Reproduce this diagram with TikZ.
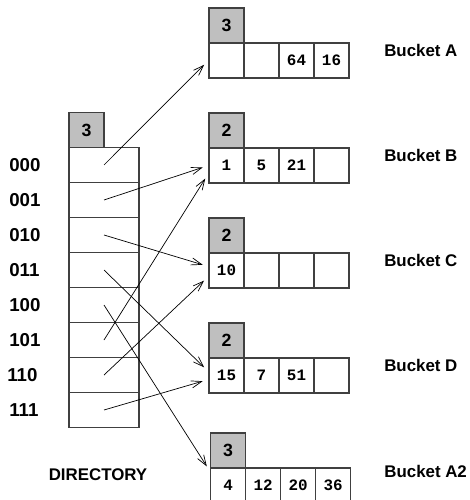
\documentclass[tikz,border=0pt]{standalone}
\usepackage{fontspec}
\setmainfont{Liberation Sans}
\setmonofont{Liberation Mono}
\usetikzlibrary{arrows.meta}

\tikzstyle{cell} = [rectangle, draw=black!75, line width=0.8pt, minimum width=0.875cm,
minimum height=0.875cm, inner sep=0pt, font=\fontsize{11.3}{13}\selectfont\ttfamily\bfseries]
\tikzstyle{slot} = [cell, minimum width=1.75cm]
\tikzstyle{depth} = [cell, fill=black!25, font=\fontsize{12.6}{15}\selectfont\bfseries]
\tikzstyle{bits} = [inner sep=0pt, font=\fontsize{13.3}{15}\selectfont\bfseries]
\tikzstyle{title} = [inner sep=0pt, font=\fontsize{12}{14}\selectfont\bfseries]
\tikzstyle{arrow} = [line width=0.5pt, shorten >=0.15cm, ->, >={Straight Barb[length=2.6mm, width=1.8mm]}]

\begin{document}
\begin{tikzpicture}[node distance=0.875cm]
  \useasboundingbox (0,0) rectangle (11.75,-12.5);

  % directory
  \node (dir000) [slot] at (2.6,-4.125) {};
  \node (dir001) [slot, below of=dir000] {};
  \node (dir010) [slot, below of=dir001] {};
  \node (dir011) [slot, below of=dir010] {};
  \node (dir100) [slot, below of=dir011] {};
  \node (dir101) [slot, below of=dir100] {};
  \node (dir110) [slot, below of=dir101] {};
  \node (dir111) [slot, below of=dir110] {};
  \node (dirhdr) [depth, above of=dir000, xshift=-0.4375cm] {3};

  \node (l000) [bits, left of=dir000, xshift=-1.5cm, anchor=west] {000};
  \node (l001) [bits, left of=dir001, xshift=-1.5cm, anchor=west] {001};
  \node (l010) [bits, left of=dir010, xshift=-1.5cm, anchor=west] {010};
  \node (l011) [bits, left of=dir011, xshift=-1.5cm, anchor=west] {011};
  \node (l100) [bits, left of=dir100, xshift=-1.5cm, anchor=west] {100};
  \node (l101) [bits, left of=dir101, xshift=-1.5cm, anchor=west] {101};
  \node (l110) [bits, left of=dir110, xshift=-1.55cm, anchor=west] {110};
  \node (l111) [bits, left of=dir111, xshift=-1.5cm, anchor=west] {111};
  \node (dirname) [title, below of=dir111, xshift=-0.15cm, yshift=-0.75cm] {DIRECTORY};

  % bucket A
  \node (a1) [cell] at (5.6625,-1.5125) {};
  \node (a2) [cell, right of=a1] {};
  \node (a3) [cell, right of=a2] {64};
  \node (a4) [cell, right of=a3] {16};
  \node (ahdr) [depth, above of=a1] {3};
  \node (la) [title, right of=a4, xshift=0.4375cm, yshift=0.25cm, anchor=west] {Bucket A};

  % bucket B
  \node (b1) [cell, below of=a1, yshift=-1.75cm] {1};
  \node (b2) [cell, right of=b1] {5};
  \node (b3) [cell, right of=b2] {21};
  \node (b4) [cell, right of=b3] {};
  \node (bhdr) [depth, above of=b1] {2};
  \node (lb) [title, right of=b4, xshift=0.4375cm, yshift=0.25cm, anchor=west] {Bucket B};

  % bucket C
  \node (c1) [cell, below of=b1, yshift=-1.75cm] {10};
  \node (c2) [cell, right of=c1] {};
  \node (c3) [cell, right of=c2] {};
  \node (c4) [cell, right of=c3] {};
  \node (chdr) [depth, above of=c1] {2};
  \node (lc) [title, right of=c4, xshift=0.4375cm, yshift=0.25cm, anchor=west] {Bucket C};

  % bucket D
  \node (d1) [cell, below of=c1, yshift=-1.75cm] {15};
  \node (d2) [cell, right of=d1] {7};
  \node (d3) [cell, right of=d2] {51};
  \node (d4) [cell, right of=d3] {};
  \node (dhdr) [depth, above of=d1] {2};
  \node (ld) [title, right of=d4, xshift=0.4375cm, yshift=0.25cm, anchor=west] {Bucket D};

  % bucket A2
  \node (aa1) [cell, below of=d1, xshift=0.04cm, yshift=-1.875cm] {4};
  \node (aa2) [cell, right of=aa1] {12};
  \node (aa3) [cell, right of=aa2] {20};
  \node (aa4) [cell, right of=aa3] {36};
  \node (aahdr) [depth, above of=aa1] {3};
  \node (laa) [title, right of=aa4, xshift=0.4cm, yshift=0.34cm, anchor=west] {Bucket A2};

  \draw [arrow] (dir000.center) -- (a1.west);
  \draw [arrow] (dir001.center) -- (b1.west);
  \draw [arrow] (dir010.center) -- ([yshift=0.1cm]c1.west);
  \draw [arrow] (dir011.center) -- ([yshift=0.1cm]d1.west);
  \draw [arrow] (dir100.center) -- ([yshift=-0.1cm]aa1.north west);
  \draw [arrow] (dir101.center) -- ([yshift=-0.2cm]b1.west);
  \draw [arrow] (dir110.center) -- ([yshift=-0.15cm]c1.west);
  \draw [arrow] (dir111.center) -- ([yshift=-0.1cm]d1.west);

\end{tikzpicture}
\end{document}
